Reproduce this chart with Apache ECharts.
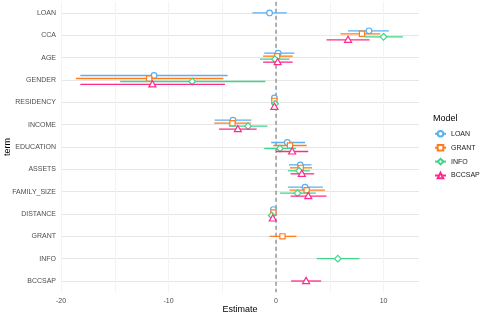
<!DOCTYPE html>
<html>
<head>
<meta charset="utf-8">
<script src="https://cdn.jsdelivr.net/npm/echarts@6/dist/echarts.min.js"></script>
<style>html,body{margin:0;padding:0;background:#fff}#c{width:480px;height:315px}</style>
</head>
<body>
<div id="c"></div>
<script>
const terms = ['LOAN','CCA','AGE','GENDER','RESIDENCY','INCOME','EDUCATION','ASSETS','FAMILY_SIZE','DISTANCE','GRANT','INFO','BCCSAP'];
const models = ['LOAN','GRANT','INFO','BCCSAP'];
const xTicks = [-20, -10, 0, 10];
const refLine = [0];

const loanEst  = [-0.6, 8.65, 0.2, -11.35, -0.15, -4.0, 1.05, 2.25, 2.7, -0.25, null, null, null];
const loanLow  = [-2.2, 6.7, -1.1, -18.2, -0.35, -5.7, -0.45, 1.2, 1.1, -0.45, null, null, null];
const loanHigh = [1.0, 10.5, 1.7, -4.5, 0.05, -2.3, 2.7, 3.3, 4.35, -0.05, null, null, null];

const grantEst  = [null, 8.0, 0.1, -11.8, -0.15, -4.05, 1.3, 2.3, 2.85, -0.25, 0.6, null, null];
const grantLow  = [null, 6.0, -1.2, -18.6, -0.35, -5.75, -0.25, 1.3, 1.25, -0.45, -0.6, null, null];
const grantHigh = [null, 9.7, 1.55, -4.9, 0.05, -2.35, 2.85, 3.35, 4.55, -0.05, 1.9, null, null];

const infoEst  = [null, 10.0, -0.1, -7.8, -0.1, -2.6, 0.37, 2.15, 2.0, -0.4, null, 5.75, null];
const infoLow  = [null, 8.2, -1.5, -14.5, -0.3, -4.4, -1.1, 1.1, 0.37, -0.6, null, 3.8, null];
const infoHigh = [null, 11.8, 1.25, -1.0, 0.1, -0.8, 1.85, 3.15, 3.7, -0.2, null, 7.75, null];

const bccEst  = [null, 6.7, 0.15, -11.5, -0.15, -3.55, 1.5, 2.4, 3.0, -0.3, null, null, 2.8];
const bccLow  = [null, 4.7, -1.2, -18.2, -0.35, -5.3, 0.0, 1.35, 1.35, -0.5, null, null, 1.4];
const bccHigh = [null, 8.7, 1.55, -4.75, 0.05, -1.8, 3.0, 3.55, 4.7, -0.1, null, null, 4.2];

const colors = ['#5AB0F0', '#FF7B1C', '#3DD68A', '#FF2A8C'];
const legendSymbols = ['emptyCircle', 'emptyRect', 'emptyDiamond', 'emptyTriangle'];
const shapes = ['circle', 'square', 'diamond', 'triangle'];

const est = [loanEst, grantEst, infoEst, bccEst];
const low = [loanLow, grantLow, infoLow, bccLow];
const high = [loanHigh, grantHigh, infoHigh, bccHigh];

function slotInfo(mi, ti) {
  let n = 0, slot = 0;
  for (let k = 0; k < models.length; k++) {
    if (est[k][ti] != null) {
      if (k === mi) slot = n;
      n++;
    }
  }
  return [slot, n];
}

function makeRender(mi) {
  const color = colors[mi];
  const shape = shapes[mi];
  return function (params, api) {
    const e = api.value(0), lo = api.value(1), hi = api.value(2), t = api.value(3);
    const slot = api.value(4), n = api.value(5);
    const band = api.size([0, 1])[1];
    const dy = (slot - (n - 1) / 2) * band * 0.134;
    const p = api.coord([e, t]);
    const pl = api.coord([lo, t]);
    const ph = api.coord([hi, t]);
    const cy = p[1] + dy, cx = p[0];
    const mStyle = { fill: '#fff', stroke: color, lineWidth: 1.2 };
    let marker;
    if (shape === 'circle') {
      marker = { type: 'circle', shape: { cx: cx, cy: cy, r: 2.8 }, style: mStyle };
    } else if (shape === 'square') {
      marker = { type: 'rect', shape: { x: cx - 2.6, y: cy - 2.6, width: 5.2, height: 5.2 }, style: mStyle };
    } else if (shape === 'diamond') {
      marker = { type: 'polygon', shape: { points: [[cx, cy - 3.3], [cx + 3.3, cy], [cx, cy + 3.3], [cx - 3.3, cy]] }, style: mStyle };
    } else {
      marker = { type: 'polygon', shape: { points: [[cx, cy - 3.7], [cx + 3.5, cy + 2.5], [cx - 3.5, cy + 2.5]] }, style: mStyle };
    }
    return {
      type: 'group',
      children: [
        { type: 'line', shape: { x1: pl[0], y1: cy, x2: ph[0], y2: cy }, style: { stroke: color, lineWidth: 1.3 } },
        marker
      ]
    };
  };
}

const series = [];
models.forEach(function (m, mi) {
  series.push({
    name: m, type: 'line', data: [], symbol: legendSymbols[mi], symbolSize: 6,
    itemStyle: { color: colors[mi] }, lineStyle: { color: colors[mi], width: 1.3 }
  });
});
series.push({
  type: 'custom', z: 3, silent: true,
  encode: { x: 0, y: 1 },
  data: refLine.map(function (v) { return [v, 0]; }),
  renderItem: function (params, api) {
    const cs = params.coordSys;
    const x = api.coord([api.value(0), 0])[0];
    return {
      type: 'line', shape: { x1: x, y1: cs.y, x2: x, y2: cs.y + cs.height },
      style: { stroke: '#666', lineWidth: 1, lineDash: [4, 3] }
    };
  }
});
models.forEach(function (m, mi) {
  const data = [];
  terms.forEach(function (t, ti) {
    if (est[mi][ti] != null) {
      const si = slotInfo(mi, ti);
      data.push([est[mi][ti], low[mi][ti], high[mi][ti], ti, si[0], si[1]]);
    }
  });
  series.push({
    name: m, type: 'custom', z: 10, renderItem: makeRender(mi),
    encode: { x: 0, y: 3 },
    itemStyle: { color: colors[mi] },
    data: data
  });
});

const font = 'Liberation Sans, Arial, sans-serif';
const chart = echarts.init(document.getElementById('c'), null, { renderer: 'canvas' });
chart.setOption({
  animation: false,
  backgroundColor: '#fff',
  textStyle: { fontFamily: font },
  title: {
    text: 'Model', left: 433, top: 114, padding: 0,
    textStyle: { fontSize: 9, fontWeight: 'normal', color: '#000', fontFamily: font }
  },
  legend: {
    data: models, orient: 'vertical', left: 434, top: 130, padding: 0,
    itemWidth: 11, itemHeight: 7, itemGap: 6.3,
    textStyle: { fontSize: 7, color: '#1a1a1a', fontFamily: font }
  },
  grid: { left: 61, right: 61, top: 1.8, bottom: 22.8, containLabel: false, outerBoundsMode: 'none' },
  xAxis: [{
    type: 'value', min: xTicks[0], max: 13.3, interval: 10,
    name: 'Estimate', nameLocation: 'middle', nameGap: 13, nameMoveOverlap: false,
    nameTextStyle: { fontSize: 9, color: '#000', fontFamily: font },
    axisLine: { show: false }, axisTick: { show: false },
    axisLabel: { fontSize: 7, color: '#4d4d4d', margin: 5, showMaxLabel: false, fontFamily: font },
    splitLine: { show: true, showMaxLine: false, lineStyle: { color: '#e6e6e6', width: 1 } }
  }, {
    type: 'value', min: xTicks[0], max: 13.3, interval: 5, position: 'top',
    axisLine: { show: false }, axisTick: { show: false }, axisLabel: { show: false },
    splitLine: { show: true, showMaxLine: false, lineStyle: { color: '#f3f3f3', width: 1 } }
  }],
  yAxis: {
    type: 'category', data: terms, inverse: true,
    name: 'term', nameLocation: 'middle', nameGap: 49, nameMoveOverlap: false,
    nameTextStyle: { fontSize: 9, color: '#000', fontFamily: font },
    axisLine: { show: false }, axisTick: { show: false },
    axisLabel: { fontSize: 7, color: '#4d4d4d', margin: 5, interval: 0, fontFamily: font },
    splitLine: { show: true, alignWithLabel: true, interval: 0, lineStyle: { color: '#e6e6e6', width: 1 } }
  },
  series: series
});
</script>
</body>
</html>
